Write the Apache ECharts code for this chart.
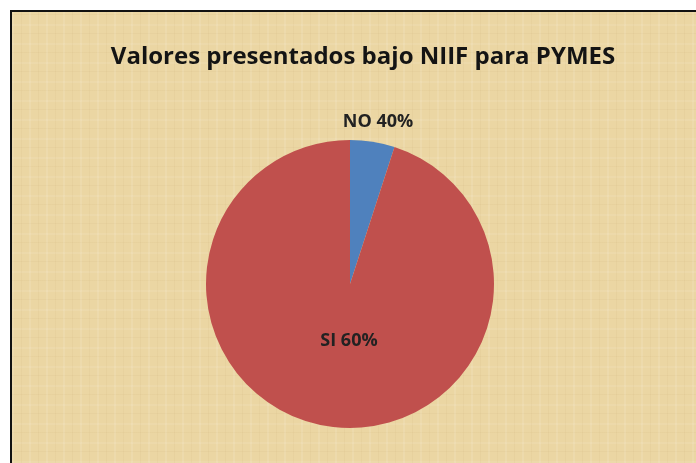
<!DOCTYPE html>
<html lang="es">
<head>
  <meta charset="UTF-8">
  <title>Valores presentados bajo NIIF para PYMES</title>
  <style>
    html, body { margin: 0; padding: 0; background: #fff; }
    .frame {
      position: absolute; left: 10px; top: 10px; width: 686px; height: 453px;
      border-top: 2px solid #111; border-left: 2px solid #111;
      box-sizing: border-box;
      background-color: #ebd6a3;
      background-image:
        repeating-linear-gradient(90deg, rgba(255,255,255,0.10) 0 2px, rgba(0,0,0,0) 2px 9px, rgba(160,120,60,0.05) 9px 10px, rgba(0,0,0,0) 10px 17px),
        repeating-linear-gradient(0deg, rgba(255,255,255,0.08) 0 2px, rgba(0,0,0,0) 2px 11px, rgba(160,120,60,0.05) 11px 12px, rgba(0,0,0,0) 12px 19px);
    }
    #chart { width: 684px; height: 451px; }
  </style>
</head>
<body>
  <div class="frame">
    <div id="chart"></div>
  </div>

  <script src="https://cdn.jsdelivr.net/npm/echarts@6/dist/echarts.min.js"></script>
  <script>
    var chartTitle = 'Valores presentados bajo NIIF para PYMES'
    var categories = ['NO', 'SI']
    var sliceValues = [5, 95]
    var sliceLabels = ['NO 40%', 'SI 60%']
    var colors = ['#4f81bd', '#c0504d']

    var onload = function () {
      var data = categories.map(function (name, i) {
        return {
          name: name,
          value: sliceValues[i],
          label: { formatter: sliceLabels[i] },
          itemStyle: { color: colors[i] }
        }
      })

      var option = {
        title: {
          text: chartTitle,
          left: 346,
          top: 28,
          textAlign: 'center',
          textStyle: {
            fontFamily: 'Open Sans',
            fontWeight: 'bold',
            fontSize: 24,
            color: '#141414'
          }
        },
        series: [{
          type: 'pie',
          center: [338, 272],
          radius: 144,
          startAngle: 90,
          clockwise: true,
          silent: true,
          label: {
            show: true,
            position: 'inside',
            fontFamily: 'Open Sans',
            fontWeight: 'bold',
            fontSize: 18,
            color: '#222'
          },
          labelLine: { show: false },
          labelLayout: function (params) {
            if (params.dataIndex === 0) {
              return { x: 366, y: 110, align: 'center', verticalAlign: 'middle' }
            }
            return { x: 337, y: 329, align: 'center', verticalAlign: 'middle' }
          },
          data: data
        }]
      }

      var chart = echarts.init(document.getElementById('chart'))
      chart.setOption(option)
    }
    window.onload = onload
  </script>
</body>
</html>
